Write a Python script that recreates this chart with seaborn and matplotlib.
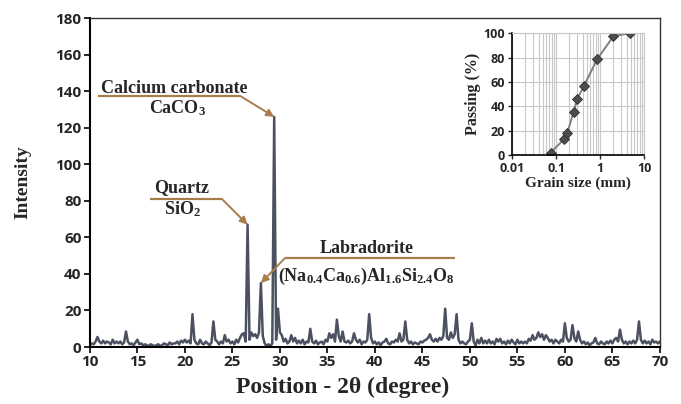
import matplotlib
matplotlib.use("Agg")
import matplotlib.pyplot as plt
import seaborn as sns
import numpy as np
import pandas as pd
from matplotlib.ticker import LogLocator, FixedLocator, NullFormatter, FuncFormatter

# XRD pattern at 0.2 degree steps (10.0 .. 70.0)
intensity_10_20 = [1, 2, 1.5, 3, 5.5, 3, 2, 3.5, 2, 3,
                   2.5, 1.5, 4, 2, 3, 2, 3, 1.5, 2.5, 8.5,
                   3, 1.5, 2, 1, 2.5, 4, 1.5, 2, 1, 1.5,
                   1, 0.5, 1.5, 1, 0.5, 1, 1.5, 0.5, 1, 2,
                   1.5, 1, 2.5, 1.5, 2, 2, 3, 1.5, 3.5, 2.5]
intensity_20_30 = [4, 2.5, 3.5, 2, 18, 4, 2, 1.5, 4, 2,
                   1.5, 3, 2, 1, 2.5, 14, 4, 3, 1.5, 3,
                   2, 6.5, 3, 4, 2, 3, 1.5, 4, 2.5, 5,
                   7, 7.5, 3, 67, 4, 8, 6, 7, 5, 8,
                   35, 6, 2, 0.5, 1.5, 0.5, 2, 126, 4, 21]
intensity_30_40 = [8, 6.5, 3, 4.5, 2, 3, 6.5, 3, 5, 2,
                   3.5, 2, 4, 1.5, 3, 2.5, 10, 3, 2, 3.5,
                   1.5, 2.5, 3, 1.5, 4, 3, 7.5, 5, 7, 3,
                   15, 6, 3, 8.5, 3, 2.5, 3.5, 2, 3, 7.5,
                   4, 2.5, 4, 1.5, 3, 2.5, 4, 18, 5, 2]
intensity_40_50 = [3, 1.5, 2.5, 1, 2.5, 3, 4.5, 2, 1.5, 3,
                   2.5, 4, 3, 7.5, 3, 4, 14, 4, 2, 3,
                   1.5, 2.5, 2, 1.5, 3, 2.5, 3.5, 4, 5, 7,
                   4, 3, 4.5, 3, 5, 4, 6, 21, 5, 4,
                   8, 5, 7, 18, 4, 2, 3, 2, 1.5, 3]
intensity_50_60 = [4, 13, 3, 1, 4, 2, 5, 2, 3.5, 2,
                   4, 2, 3, 1.5, 4.5, 3, 4.5, 2, 3, 1.5,
                   3.5, 2, 4, 2.5, 1.5, 4, 2, 3, 2, 3,
                   2, 4.5, 3.5, 6.5, 4, 5, 8, 5.5, 7, 4,
                   6.5, 5, 3, 4, 2, 4, 3, 2, 4, 3]
intensity_60_70 = [13, 5, 3, 4, 12, 5, 3, 8.5, 4, 2,
                   3, 1.5, 2.5, 1, 2, 2.5, 5, 2, 1.5, 3,
                   2, 1.5, 3, 2, 3.5, 2, 4, 5, 3, 9.5,
                   4, 2, 3, 1.5, 3, 2, 3.5, 2, 4, 14,
                   4, 2, 3.5, 2, 3, 1.5, 4, 2.5, 3, 2,
                   3]
intensity = (intensity_10_20 + intensity_20_30 + intensity_30_40
             + intensity_40_50 + intensity_50_60 + intensity_60_70)
two_theta = np.round(10.0 + 0.2 * np.arange(len(intensity)), 1)

# grain size distribution (inset)
grain_size_mm = [0.075, 0.15, 0.18, 0.25, 0.30, 0.425, 0.85, 2.0, 4.75]
passing_pct = [2, 13, 18.5, 35.5, 46, 56.5, 78.5, 97.5, 100]

# identified phases
phase_names = ['Calcium carbonate', 'Quartz', 'Labradorite']
phase_formulas = ['CaCO$_3$', 'SiO$_2$',
                  '(Na$_{0.4}$Ca$_{0.6}$)Al$_{1.6}$Si$_{2.4}$O$_8$']
phase_peaks = [29.4, 26.6, 28.0]

xrd = pd.DataFrame({'two_theta': two_theta, 'intensity': intensity})
psd = pd.DataFrame({'size': grain_size_mm, 'passing': passing_pct})

sns.set_theme(style="white")
plt.rcParams['font.family'] = ['Open Sans', 'DejaVu Sans']
plt.rcParams['mathtext.fontset'] = 'custom'
plt.rcParams['mathtext.rm'] = 'Liberation Serif:bold'
plt.rcParams['mathtext.it'] = 'Liberation Serif:bold'
plt.rcParams['mathtext.bf'] = 'Liberation Serif:bold'
plt.rcParams['mathtext.default'] = 'rm'

line_col = '#4b5160'
brown = '#a97c4c'
serif = dict(family='Liberation Serif', weight='bold')

fig = plt.figure(figsize=(6.81, 4.04), dpi=100)
ax = fig.add_axes([0.132, 0.141, 0.837, 0.814])
sns.lineplot(data=xrd, x='two_theta', y='intensity', ax=ax,
             color=line_col, lw=1.8)
ax.set_xlim(10, 70)
ax.set_ylim(0, 180)
ax.set_xticks(np.arange(10, 71, 5))
ax.set_yticks(np.arange(0, 181, 20))
ax.tick_params(axis='both', direction='out', length=4, width=1.2,
               labelsize=11, color='black', pad=2, bottom=True, left=True)
for lab in ax.get_xticklabels() + ax.get_yticklabels():
    lab.set_fontweight('bold')
for side in ['left', 'bottom']:
    ax.spines[side].set_color('black')
    ax.spines[side].set_linewidth(1.5)
for side in ['top', 'right']:
    ax.spines[side].set_color('#333333')
    ax.spines[side].set_linewidth(1.0)
ax.set_xlabel('Position - 2θ (degree)', fontsize=17, **serif)
ax.xaxis.set_label_coords(0.443, -0.09)
ax.set_ylabel('Intensity', fontsize=14, **serif)
ax.yaxis.set_label_coords(-0.103, 0.5)

# annotation layout: (label xy, formula xy, underline x-range, underline y)
layout = [
    ((18.9, 141.5), (19.2, 130.5), (10.9, 25.8), 137.5),
    ((19.7, 87.5), (19.7, 75.5), (16.3, 23.9), 81.0),
    ((39.1, 54.0), (39.1, 38.5), (30.5, 48.4), 48.5),
]
for name, formula, peak, (p1, p2, (xa, xb), yl) in zip(
        phase_names, phase_formulas, phase_peaks, layout):
    i = int(np.argmin(np.abs(two_theta - peak)))
    px, py = two_theta[i], intensity[i]
    ax.text(*p1, name, ha='center', va='center', fontsize=13, **serif)
    ax.text(*p2, formula, ha='center', va='center', fontsize=13, **serif)
    ax.plot([xa, xb], [yl, yl], color=brown, lw=1.6, solid_capstyle='butt')
    start = xb if px > xb else xa
    ax.annotate('', xy=(px, py), xytext=(start, yl),
                arrowprops=dict(arrowstyle='-|>', color=brown, lw=1.4,
                                mutation_scale=11, shrinkA=0, shrinkB=0))

# inset: particle size distribution
ins = fig.add_axes([0.752, 0.616, 0.194, 0.302])
ins.set_facecolor('white')
sns.lineplot(data=psd, x='size', y='passing', ax=ins, color='#808080',
             lw=1.4, marker='D', markersize=4.8, markerfacecolor='#4d4d4d',
             markeredgecolor='#2b2b2b', markeredgewidth=0.6)
ins.set_xscale('log')
ins.set_xlim(0.01, 10)
ins.set_ylim(0, 100)
ins.xaxis.set_major_locator(FixedLocator([0.01, 0.1, 1, 10]))
ins.xaxis.set_major_formatter(FuncFormatter(lambda v, p: f'{v:g}'))
ins.xaxis.set_minor_locator(LogLocator(base=10, subs=np.arange(2, 10)))
ins.xaxis.set_minor_formatter(NullFormatter())
ins.set_yticks(np.arange(0, 101, 20))
ins.grid(True, which='both', axis='x', color='#c8c8c8', lw=0.8)
ins.grid(True, which='major', axis='y', color='#c8c8c8', lw=0.8)
ins.set_axisbelow(True)
ins.tick_params(axis='both', which='major', direction='out', length=3,
                width=1, labelsize=9, pad=2, bottom=True, left=True)
ins.tick_params(axis='x', which='minor', length=0)
for lab in ins.get_xticklabels() + ins.get_yticklabels():
    lab.set_fontweight('bold')
for side in ['left', 'bottom']:
    ins.spines[side].set_color('black')
    ins.spines[side].set_linewidth(1.2)
for side in ['top', 'right']:
    ins.spines[side].set_color('#c8c8c8')
    ins.spines[side].set_linewidth(0.8)
ins.set_xlabel('Grain size (mm)', fontsize=11, labelpad=1, **serif)
ins.set_ylabel('Passing (%)', fontsize=11.5, labelpad=2, **serif)

fig.savefig('out.png', dpi=100)
